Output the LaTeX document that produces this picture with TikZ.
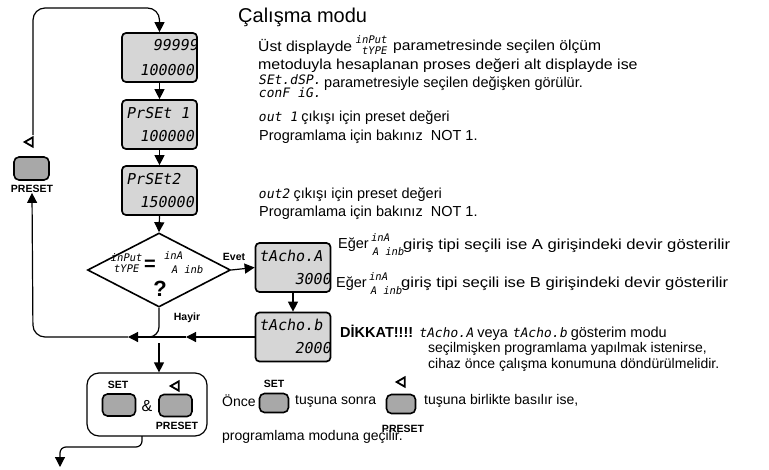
\documentclass[tikz,border=0pt]{standalone}
\usepackage{fontspec}
\setmainfont{Liberation Sans}
\newfontfamily\seg{DejaVu Sans Mono}[FakeSlant=0.18]
\usetikzlibrary{arrows.meta,shapes.geometric,calc}
\definecolor{dispgray}{HTML}{D6D6D6}
\definecolor{btngray}{HTML}{A8A8A8}
\newcommand{\segin}[1]{{\seg\fontsize{13}{13}\selectfont #1}}
\begin{document}
\begin{tikzpicture}[x=1pt,y=-1pt,
  disp/.style={draw, line width=1.7pt, rounded corners=4pt, fill=dispgray, minimum width=75pt, minimum height=49pt, inner sep=0pt},
  btn/.style={draw, line width=1.6pt, rounded corners=5pt, fill=btngray, minimum width=33pt, minimum height=22pt, inner sep=0pt},
  arr/.style={line width=1.2pt, -{Triangle[length=10pt,width=10pt]}},
  ln/.style={line width=1.2pt},
  segbig/.style={font=\seg\fontsize{15}{15}\selectfont, inner sep=0pt},
  segsm/.style={font=\seg\fontsize{10.5}{10.5}\selectfont, inner sep=0pt},
  segmid/.style={font=\seg\fontsize{13}{13}\selectfont, inner sep=0pt, anchor=west},
  body/.style={font=\fontsize{14.5}{16}\selectfont, anchor=west, inner sep=0pt},
  bodys/.style={font=\fontsize{14}{16}\selectfont, anchor=west, inner sep=0pt},
  lbl/.style={font=\bfseries\fontsize{10.5}{12}\selectfont, inner sep=0pt},
  tri/.style={isosceles triangle, isosceles triangle apex angle=60, shape border rotate=180, draw, line width=1.8pt, minimum height=8pt, minimum width=9pt, inner sep=0pt}
]
\useasboundingbox (0,0) rectangle (769,469);

% ---- displays
\node[disp] (d1) at (159.5,57.5) {};
\node[segbig, anchor=east] (d1a) at (198,45) {99999};
\node[segbig, anchor=east] (d1b) at (194,70) {100000};
\node[disp] (d2) at (159.5,124.5) {};
\node[segbig, anchor=west] (d2a) at (126,113) {PrSEt 1};
\node[segbig, anchor=east] (d2b) at (194,136) {100000};
\node[disp] (d3) at (159.5,190.5) {};
\node[segbig, anchor=west] (d3a) at (126,179) {PrSEt2};
\node[segbig, anchor=east] (d3b) at (194,202) {150000};

% ---- decision
\node[diamond, draw, line width=1.6pt, minimum width=143pt, minimum height=74pt, inner sep=0pt] (dia) at (159,270) {};
\node[segsm] (q1) at (126,258) {inPut};
\node[segsm] (q2) at (126,269) {tYPE};
\node[font=\bfseries\fontsize{20}{20}\selectfont, inner sep=0pt] (q3) at (150,265) {=};
\node[segsm] (q4) at (173,256) {inA};
\node[segsm] (q5) at (187,270) {A inb};
\node[font=\bfseries\fontsize{22}{22}\selectfont, inner sep=0pt] (q6) at (160,289) {?};
\node[lbl] (evet) at (234,257) {Evet};
\node[lbl] (hayir) at (187,318) {Hayir};

% ---- tacho displays
\node[disp] (tA) at (293,267.5) {};
\node[segbig, anchor=west] (tAa) at (259,256) {tAcho.A};
\node[segbig, anchor=east] (tAb) at (331,279) {3000};
\node[disp] (tB) at (293,337) {};
\node[segbig, anchor=west] (tBa) at (259,325) {tAcho.b};
\node[segbig, anchor=east] (tBb) at (331,348) {2000};

% ---- left PRESET key
\node[tri] (ptri) at (30,142) {};
\node[btn, minimum width=35pt, minimum height=23pt] (pbtn) at (31.5,168.5) {};
\node[lbl] (plbl) at (32,189) {PRESET};

% ---- key box
\node[draw, line width=1.2pt, rounded corners=12pt, minimum width=120pt, minimum height=63pt, inner sep=0pt] (kbox) at (147,404.5) {};
\node[lbl] (setl) at (118,385) {SET};
\node[btn] (setb) at (119,405) {};
\node[font=\fontsize{16}{16}\selectfont, inner sep=0pt] (amp) at (147,406) {\&};
\node[btn] (preb) at (175.5,405.5) {};
\node[tri] (pretri) at (176,386) {};
\node[lbl] (prel) at (177,426) {PRESET};

% ---- coordinates
\coordinate (loopst) at (33,135);
\coordinate (jR) at (186,337);
\coordinate (jL) at (128,337);
\coordinate (jH) at (140,337);
\coordinate (jD) at (159,343);
\coordinate (kout) at (142,436);
\coordinate (fin) at (60,467);

% ---- connectors
\draw[arr, rounded corners=12pt] (loopst) -- (33,8) -- (159.5,8) -- (d1.north);
\draw[arr] (d1.south) -- (d2.north);
\draw[arr] (d2.south) -- (d3.north);
\draw[arr] (d3.south) -- (dia.north);
\draw[arr] (dia.east) -- (tA.west);
\draw[arr] (tA.south) -- (tB.north);
\draw[arr] (tB.west) -- (jR);
\draw[arr] (jR) -- (jL);
\draw[arr, rounded corners=12pt] (jL) -- (33,337) -- (plbl.south);
\draw[ln, rounded corners=10pt] (dia.south) -- (159,337) -- (jH);
\draw[arr] (jD) -- (jD |- kbox.north);
\draw[arr, rounded corners=6pt] (kout) -- (142,447) -- (60,447) -- (fin);

% ---- right text
\node[font=\fontsize{20}{22}\selectfont, anchor=west, inner sep=0pt] (title) at (238,17) {Çalışma modu};
\node[body] (t1a) at (258,47) {\scalebox{1.08}[1]{Üst displayde}};
\node[segsm] (t1b) at (371,40) {inPut};
\node[segsm] (t1c) at (374,51) {tYPE};
\node[body] (t1d) at (393,47) {\scalebox{1.08}[1]{parametresinde seçilen ölçüm}};
\node[body] (t2) at (258,66) {\scalebox{1.1}[1]{metoduyla hesaplanan proses değeri alt displayde ise}};
\node[segmid] (t3a) at (258,80) {SEt.dSP.};
\node[segmid] (t3b) at (258,93) {conF iG.};
\node[body] (t3c) at (324,84) {parametresiyle seçilen değişken görülür.};
\node[body] (t4) at (258,118) {\segin{out 1} çıkışı için preset değeri};
\node[body] (t5) at (259,137) {Programlama için bakınız \ NOT 1.};
\node[body] (t6) at (258,195) {\segin{out2} çıkışı için preset değeri};
\node[body] (t7) at (259,213) {Programlama için bakınız \ NOT 1.};
\node[body] (e1a) at (338,245) {Eğer};
\node[segsm] (e1b) at (380,238) {inA};
\node[segsm] (e1c) at (388,252) {A inb};
\node[body] (e1d) at (403,246) {\scalebox{1.15}[1]{giriş tipi seçili ise A girişindeki devir gösterilir}};
\node[body] (e2a) at (336,284) {Eğer};
\node[segsm] (e2b) at (378,277) {inA};
\node[segsm] (e2c) at (386,291) {A inb};
\node[body] (e2d) at (401,284) {\scalebox{1.15}[1]{giriş tipi seçili ise B girişindeki devir gösterilir}};
\node[body] (k1) at (340,333) {{\bfseries DİKKAT!!!!} \segin{tAcho.A} veya \segin{tAcho.b} gösterim modu};
\node[bodys] (k2) at (428,349) {seçilmişken programlama yapılmak istenirse,};
\node[bodys] (k3) at (428,365) {cihaz önce çalışma konumuna döndürülmelidir.};

% ---- bottom text
\node[bodys] (b1) at (222,401) {Önce};
\node[lbl] (b2l) at (274,384) {SET};
\node[btn, minimum width=29pt, minimum height=19pt] (b2) at (274,403) {};
\node[bodys] (b3) at (295,401) {tuşuna sonra};
\node[tri] (b4t) at (402,382) {};
\node[btn, minimum width=29pt, minimum height=19pt] (b4) at (401,404) {};
\node[lbl] (b4l) at (403,429) {PRESET};
\node[bodys] (b5) at (424,401) {tuşuna birlikte basılır ise,};
\node[bodys] (b6) at (222,437) {programlama moduna geçilir.};
\end{tikzpicture}
\end{document}
